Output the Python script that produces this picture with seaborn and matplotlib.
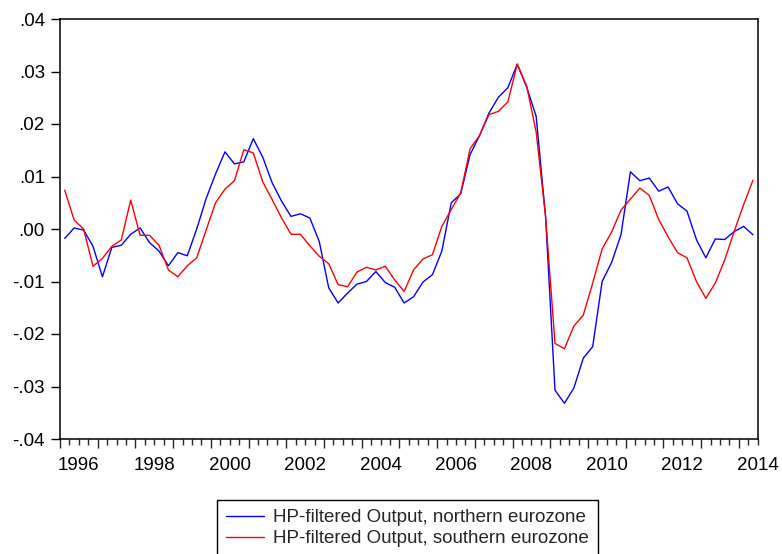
import numpy as np
import pandas as pd
import matplotlib
matplotlib.use("Agg")
import matplotlib.pyplot as plt
import matplotlib.transforms as mtransforms
from matplotlib.ticker import FixedLocator, NullFormatter
import seaborn as sns

# ---------------- data (quarterly, 1996Q1 .. 2014Q2) ----------------
first_quarter = "1996Q1"
north = [-0.0018, 0.0002, -0.0002, -0.0033, -0.0091, -0.0035, -0.0031, -0.0010,
         0.0002, -0.0026, -0.0042, -0.0070, -0.0045, -0.0051, 0.0000, 0.0058,
         0.0105, 0.0147, 0.0124, 0.0128, 0.0172, 0.0137, 0.0088, 0.0053,
         0.0024, 0.0029, 0.0021, -0.0024, -0.0112, -0.0141, -0.0122, -0.0105,
         -0.0100, -0.0081, -0.0102, -0.0111, -0.0141, -0.0129, -0.0101, -0.0087,
         -0.0042, 0.0050, 0.0067, 0.0142, 0.0178, 0.0221, 0.0251, 0.0269,
         0.0314, 0.0270, 0.0215, 0.0024, -0.0307, -0.0332, -0.0303, -0.0246,
         -0.0224, -0.0100, -0.0064, -0.0011, 0.0109, 0.0092, 0.0097, 0.0072,
         0.0080, 0.0048, 0.0034, -0.0020, -0.0055, -0.0019, -0.0020, -0.0005,
         0.0005, -0.0011]
south = [0.0074, 0.0017, 0.0000, -0.0071, -0.0056, -0.0033, -0.0021, 0.0055,
         -0.0012, -0.0012, -0.0031, -0.0078, -0.0091, -0.0070, -0.0055, -0.0002,
         0.0050, 0.0076, 0.0092, 0.0151, 0.0145, 0.0090, 0.0056, 0.0021,
         -0.0010, -0.0010, -0.0032, -0.0052, -0.0066, -0.0106, -0.0110, -0.0082,
         -0.0073, -0.0078, -0.0071, -0.0097, -0.0119, -0.0078, -0.0057, -0.0049,
         0.0005, 0.0037, 0.0069, 0.0153, 0.0178, 0.0218, 0.0224, 0.0242,
         0.0314, 0.0272, 0.0185, 0.0024, -0.0218, -0.0228, -0.0185, -0.0164,
         -0.0103, -0.0038, -0.0006, 0.0036, 0.0057, 0.0078, 0.0064, 0.0018,
         -0.0015, -0.0045, -0.0055, -0.0100, -0.0132, -0.0103, -0.0059, -0.0005,
         0.0046, 0.0093]
series_names = ["HP-filtered Output, northern eurozone",
                "HP-filtered Output, southern eurozone"]
series_colors = ["#0000ff", "#ff0000"]
ytick_values = [-0.04, -0.03, -0.02, -0.01, 0.00, 0.01, 0.02, 0.03, 0.04]
ytick_labels = ["-.04", "-.03", "-.02", "-.01", ".00", ".01", ".02", ".03", ".04"]
tick_years = list(range(1996, 2015))
label_years = ["1996", "1998", "2000", "2002", "2004", "2006", "2008",
               "2010", "2012", "2014"]

# ---------------- frame ----------------
periods = pd.period_range(first_quarter, periods=len(north), freq="Q")
t = np.asarray(periods.year + (periods.quarter - 1) / 4.0, dtype=float)
n = len(t)
df = pd.DataFrame({
    "t": np.concatenate([t, t]),
    "value": north + south,
    "series": [series_names[0]] * n + [series_names[1]] * n,
})

sns.set_style("ticks")
plt.rcParams["font.family"] = ["Liberation Sans", "DejaVu Sans"]
FS = 13.5

W, H = 782, 554
fig = plt.figure(figsize=(W / 100, H / 100), dpi=100)
left, right, top, bottom = 60, 757.7, 19, 439
ax = fig.add_axes([left / W, 1 - bottom / H, (right - left) / W, (bottom - top) / H])

sns.lineplot(data=df, x="t", y="value", hue="series", hue_order=series_names,
             palette=series_colors, linewidth=1.0, estimator=None, sort=False,
             legend=False, ax=ax)

ax.set_xlim(t[0] - 0.125, t[-1] + 0.125)
ax.set_ylim(-0.04, 0.04)
ax.set_xlabel("")
ax.set_ylabel("")

# y axis
ax.yaxis.set_major_locator(FixedLocator(ytick_values))
ax.set_yticklabels(ytick_labels)
ax.tick_params(axis="y", direction="out", length=6.5, width=1.0, pad=4.3,
               labelsize=FS, colors="black")

# x axis: year ticks (major) and quarter ticks (minor)
ax.xaxis.set_major_locator(FixedLocator([y - 0.125 for y in tick_years]))
ax.xaxis.set_major_formatter(NullFormatter())
ax.xaxis.set_minor_locator(FixedLocator(list(t - 0.125) + [t[-1] + 0.125]))
ax.tick_params(axis="x", which="major", direction="out", length=6.5, width=1.0)
ax.tick_params(axis="x", which="minor", direction="out", length=4.0, width=1.0)

trans = mtransforms.blended_transform_factory(ax.transData, ax.transAxes)
for lab in label_years:
    ax.text(int(lab) + 0.375, -0.063, lab, transform=trans, ha="center",
            va="center", fontsize=FS, color="black")

for sp in ax.spines.values():
    sp.set_visible(True)
    sp.set_color("black")
    sp.set_linewidth(1.1)

# legend
leg = fig.legend(ax.lines[:2], series_names, loc="upper center",
                 bbox_to_anchor=(407.5 / W, 1 - 500 / H),
                 bbox_transform=fig.transFigure, fontsize=FS,
                 frameon=True, fancybox=False, framealpha=1, edgecolor="black",
                 handlelength=2.0, handletextpad=0.5, borderpad=0.5,
                 labelspacing=0.2, borderaxespad=0)
leg.get_frame().set_linewidth(1.0)

fig.savefig("out.png", dpi=100)
